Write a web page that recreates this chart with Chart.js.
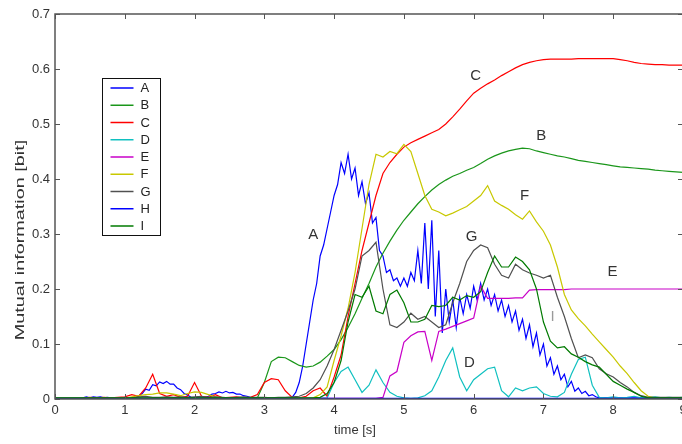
<!DOCTYPE html>
<html>
<head>
<meta charset="utf-8">
<script src="https://cdn.jsdelivr.net/npm/chart.js@4.4.1/dist/chart.umd.min.js"></script>
<style>
  html, body { margin: 0; padding: 0; background: #fff; overflow: hidden; }
  #wrap { width: 692px; height: 444px; }
</style>
</head>
<body>
<div id="wrap"><canvas id="mi-chart" width="692" height="444"></canvas></div>
<script>
/* ===== MUTUAL INFORMATION OVER TIME ===== */

const seriesNames  = ['A', 'B', 'C', 'D', 'E', 'F', 'G', 'H', 'I'];
const seriesColors = ['#0000ff', '#1a961a', '#ff0000', '#10c0c0', '#c800c8',
                      '#c8c800', '#505050', '#0000ff', '#007a00'];

const xTickLabels = ['0', '1', '2', '3', '4', '5', '6', '7', '8', '9'];
const yTickLabels = ['0', '0.1', '0.2', '0.3', '0.4', '0.5', '0.6', '0.7'];

// curve labels placed inside the plot (time, value)
const tagNames  = ['A', 'B', 'C', 'D', 'E', 'F', 'G', 'I'];
const tagTimes  = [3.70, 6.97, 6.03, 5.94, 7.99, 6.73, 5.97, 7.13];
const tagValues = [0.298, 0.479, 0.587, 0.065, 0.232, 0.369, 0.294, 0.149];

// sample times: 0.1 s for most series, 0.05 s for A
const coarseTimes = [];
for (let i = 0; i <= 90; i++) coarseTimes.push(i / 10);
const fineTimes = [];
for (let i = 0; i <= 180; i++) fineTimes.push(i / 20);

const aValues = [
  .001,.001,.001,.001,.001,.001,.001,.001,
  .002,.004,.002,.004,.003,.004,.002,.003,.002,
  .001,.001,.001,.002,.001,.002,.002,
  .006,.010,.018,.016,.026,.024,.031,.028,.032,.027,.027,.020,.017,.010,.007,.003,
  .002,.002,.002,.003,.005,.009,.010,.013,.011,.014,.011,.012,.009,.009,.006,.005,.003,.002,.001,
  .001,.001,.001,.001,.001,.001,.001,.001,.001,
  .003,.012,.030,.060,.100,.140,.180,.210,.260,.280,.310,.340,
  .370,.390,.430,.410,.445,.400,.420,.370,.395,.355,.375,.320,.330,.270,.260,.230,.235,.215,.220,.205,
  .220,.205,.230,.215,.270,.210,.320,.200,.325,.150,.270,.120,.200,.140,.180,.130,.185,.155,.190,.165,
  .205,.180,.210,.180,.200,.170,.190,.160,.180,.150,.170,.140,.160,.125,.145,.110,.135,.095,.120,.080,
  .100,.060,.075,.045,.060,.035,.045,.022,.032,.014,.020,.010,.014,.006,.008,.004,
  .002,.002,.002,.002,.002,.002,.002,.002,.002,.002,.002,.002,.002,
  .002,.002,.002,.002,.002,.002,.002,.002,.002,.002,.002,.002
];

const bValues = [
  .001,.001,.001,.001,.001,.001,.001,.001,.001,.001,
  .001,.001,.001,.001,.001,.001,.001,.001,.001,.001,
  .001,.001,.001,.001,.001,.001,.001,.001,.001,.002,
  .030,.068,.076,.075,.068,.061,.058,.060,.067,.078,
  .090,.108,.130,.155,.183,.210,.240,.265,.287,.307,
  .325,.340,.355,.368,.380,.390,.398,.405,.410,.416,
  .421,.428,.436,.442,.447,.451,.454,.456,.455,.451,
  .448,.445,.442,.440,.437,.434,.432,.430,.428,.426,
  .424,.422,.421,.420,.419,.418,.416,.415,.414,.413,
  .412
];

const cValues = [
  .000,.000,.000,.000,.001,.003,.002,.003,.002,.003,
  .004,.008,.005,.020,.045,.010,.005,.008,.003,.005,
  .030,.005,.003,.008,.002,.003,.004,.002,.003,.008,
  .030,.037,.035,.015,.003,.002,.005,.015,.020,.005,
  .040,.080,.150,.210,.270,.320,.370,.410,.430,.445,
  .458,.466,.472,.478,.484,.490,.500,.513,.527,.542,
  .556,.565,.573,.580,.588,.595,.602,.608,.612,.615,
  .617,.618,.618,.618,.618,.619,.619,.619,.619,.619,
  .619,.617,.615,.612,.610,.609,.608,.608,.607,.607,
  .607
];

const dValues = [
  .001,.001,.001,.001,.001,.001,.001,.001,.001,.001,
  .001,.001,.001,.001,.001,.001,.001,.001,.001,.001,
  .001,.001,.001,.001,.001,.001,.001,.001,.001,.001,
  .001,.001,.001,.001,.001,.001,.001,.001,.001,.002,
  .030,.050,.058,.035,.012,.025,.053,.030,.012,.005,
  .002,.001,.002,.006,.015,.040,.070,.093,.040,.015,
  .035,.045,.055,.058,.015,.004,.020,.015,.020,.022,
  .010,.005,.004,.012,.045,.072,.076,.025,.003,.002,
  .004,.002,.003,.005,.002,.003,.004,.002,.003,.002,
  .003
];

const eValues = [
  .001,.001,.001,.001,.001,.001,.001,.001,.001,.001,
  .001,.001,.001,.001,.001,.001,.001,.001,.001,.001,
  .001,.001,.001,.001,.001,.001,.001,.001,.001,.001,
  .001,.001,.001,.001,.001,.001,.001,.001,.001,.001,
  .001,.001,.001,.001,.001,.001,.001,.003,.042,.050,
  .103,.115,.122,.123,.070,.123,.127,.132,.137,.142,
  .147,.205,.183,.183,.183,.183,.184,.184,.198,.199,
  .199,.199,.199,.199,.200,.200,.200,.200,.200,.200,
  .200,.200,.200,.200,.200,.200,.200,.200,.200,.200,
  .200
];

const fValues = [
  .001,.001,.001,.001,.001,.001,.001,.001,.001,.001,
  .001,.004,.006,.008,.009,.011,.011,.009,.006,.010,
  .013,.012,.008,.004,.002,.001,.001,.001,.001,.001,
  .001,.001,.001,.001,.001,.001,.001,.002,.008,.022,
  .070,.115,.165,.230,.310,.390,.445,.440,.450,.446,
  .463,.450,.410,.370,.345,.340,.333,.338,.344,.350,
  .360,.370,.388,.360,.352,.345,.335,.327,.342,.322,
  .305,.280,.240,.190,.162,.146,.133,.118,.104,.090,
  .076,.060,.046,.030,.015,.005,.002,.002,.002,.002,
  .002
];

const gValues = [
  .001,.001,.001,.001,.001,.001,.001,.001,.001,.001,
  .001,.002,.004,.005,.003,.003,.004,.003,.004,.003,
  .004,.005,.003,.004,.003,.002,.003,.004,.003,.003,
  .003,.002,.003,.003,.004,.005,.010,.020,.035,.060,
  .090,.125,.160,.200,.260,.270,.285,.200,.135,.130,
  .140,.156,.145,.150,.140,.130,.135,.175,.210,.250,
  .270,.280,.275,.245,.225,.220,.245,.235,.229,.225,
  .220,.225,.185,.150,.110,.075,.080,.075,.055,.046,
  .040,.030,.022,.012,.006,.003,.003,.003,.003,.003,
  .003
];

const hValues = [
  .001,.001,.001,.001,.001,.001,.001,.001,.001,.001,
  .001,.001,.001,.001,.001,.001,.001,.001,.001,.001,
  .001,.001,.001,.001,.001,.001,.001,.001,.001,.001,
  .001,.001,.001,.001,.001,.001,.001,.001,.001,.001,
  .001,.001,.001,.001,.001,.001,.001,.001,.001,.001,
  .001,.001,.001,.001,.001,.001,.001,.001,.001,.001,
  .001,.001,.001,.001,.001,.001,.001,.001,.001,.001,
  .001,.001,.001,.001,.001,.001,.001,.001,.001,.001,
  .001,.001,.001,.001,.001,.001,.001,.001,.001,.001,
  .001
];

const iValues = [
  .002,.002,.002,.002,.002,.002,.002,.002,.002,.002,
  .002,.002,.002,.002,.002,.002,.002,.002,.002,.002,
  .002,.002,.002,.002,.002,.002,.002,.002,.002,.002,
  .002,.002,.002,.002,.002,.002,.002,.002,.003,.010,
  .030,.070,.140,.190,.185,.205,.160,.155,.190,.198,
  .175,.140,.140,.145,.170,.168,.170,.185,.180,.188,
  .185,.195,.230,.260,.240,.240,.258,.250,.235,.200,
  .140,.105,.093,.095,.082,.076,.068,.062,.058,.045,
  .032,.025,.018,.012,.005,.002,.002,.002,.002,.002,
  .002
];

const seriesValues = [aValues, bValues, cValues, dValues, eValues, fValues, gValues, hValues, iValues];
const seriesTimes  = [fineTimes, coarseTimes, coarseTimes, coarseTimes, coarseTimes,
                      coarseTimes, coarseTimes, coarseTimes, coarseTimes];

const FONT = '"Liberation Sans", Arial, sans-serif';

// box + inward ticks, MATLAB style
const frameTicks = {
  id: 'frameTicks',
  afterDatasetsDraw(chart) {
    const { ctx, chartArea: a, scales: { x, y } } = chart;
    ctx.save();
    ctx.strokeStyle = '#555';
    ctx.lineWidth = 1.5;
    ctx.strokeRect(a.left, a.top, a.right - a.left, a.bottom - a.top);
    ctx.lineWidth = 1;
    ctx.beginPath();
    x.ticks.forEach(t => {
      const px = Math.round(x.getPixelForValue(t.value)) + 0.5;
      ctx.moveTo(px, a.bottom); ctx.lineTo(px, a.bottom - 5);
      ctx.moveTo(px, a.top);    ctx.lineTo(px, a.top + 5);
    });
    y.ticks.forEach(t => {
      const py = Math.round(y.getPixelForValue(t.value)) + 0.5;
      ctx.moveTo(a.left, py);  ctx.lineTo(a.left + 5, py);
      ctx.moveTo(a.right, py); ctx.lineTo(a.right - 5, py);
    });
    ctx.stroke();
    ctx.restore();
  },
};

// curve tags, legend box and axis titles
const overlays = {
  id: 'overlays',
  afterDraw(chart) {
    const { ctx, chartArea: a, scales: { x, y } } = chart;
    ctx.save();

    ctx.font = '15px ' + FONT;
    ctx.textAlign = 'center';
    ctx.textBaseline = 'middle';
    tagNames.forEach((name, i) => {
      ctx.fillStyle = name === 'I' ? '#9a9a9a' : '#333';
      ctx.fillText(name, x.getPixelForValue(tagTimes[i]), y.getPixelForValue(tagValues[i]));
    });

    // legend
    const bx = a.left + 47.5, by = a.top + 64.5, bw = 58, bh = 157;
    ctx.fillStyle = '#fff';
    ctx.fillRect(bx, by, bw, bh);
    ctx.strokeStyle = '#111';
    ctx.lineWidth = 1;
    ctx.strokeRect(bx, by, bw, bh);
    ctx.font = '13px ' + FONT;
    ctx.textAlign = 'left';
    chart.data.datasets.forEach((ds, i) => {
      const ly = by + 9.5 + i * 17.25;
      ctx.strokeStyle = ds.borderColor;
      ctx.lineWidth = 1.5;
      ctx.beginPath();
      ctx.moveTo(bx + 8, ly); ctx.lineTo(bx + 31, ly);
      ctx.stroke();
      ctx.fillStyle = '#222';
      ctx.fillText(ds.label, bx + 38, ly + 0.5);
    });

    // axis titles
    ctx.fillStyle = '#333';
    ctx.textAlign = 'center';
    ctx.font = '13px ' + FONT;
    ctx.fillText('time [s]', 355, 430);

    ctx.translate(21, 240);
    ctx.rotate(-Math.PI / 2);
    ctx.scale(1.65, 1);
    ctx.font = '12px ' + FONT;
    ctx.fillText('Mutual information [bit]', 0, 0);
    ctx.restore();
  },
};

const datasets = seriesNames.map((name, i) => ({
  label: name,
  data: seriesValues[i].map((v, k) => ({ x: seriesTimes[i][k], y: v })),
  borderColor: seriesColors[i],
  borderWidth: 1.2,
  pointRadius: 0,
  tension: 0,
  fill: false,
  order: seriesNames.length - i,
}));

new Chart(document.getElementById('mi-chart'), {
  type: 'line',
  data: { datasets },
  options: {
    responsive: false,
    animation: false,
    layout: { padding: { left: 0, right: 9, top: 14, bottom: 0 } },
    plugins: {
      legend: { display: false },
      tooltip: { enabled: false },
    },
    scales: {
      x: {
        type: 'linear',
        min: 0,
        max: 9,
        afterFit: s => { s.height = 45; },
        grid: { display: false, drawTicks: false },
        border: { display: false },
        ticks: {
          stepSize: 1,
          padding: 4,
          color: '#333',
          font: { family: FONT, size: 13 },
          callback: v => xTickLabels[Math.round(v)],
        },
      },
      y: {
        min: 0,
        max: 0.7,
        afterFit: s => { s.width = 55; },
        grid: { display: false, drawTicks: false },
        border: { display: false },
        ticks: {
          stepSize: 0.1,
          padding: 5,
          color: '#333',
          font: { family: FONT, size: 13 },
          callback: v => yTickLabels[Math.round(v * 10)],
        },
      },
    },
  },
  plugins: [frameTicks, overlays],
});
</script>
</body>
</html>
